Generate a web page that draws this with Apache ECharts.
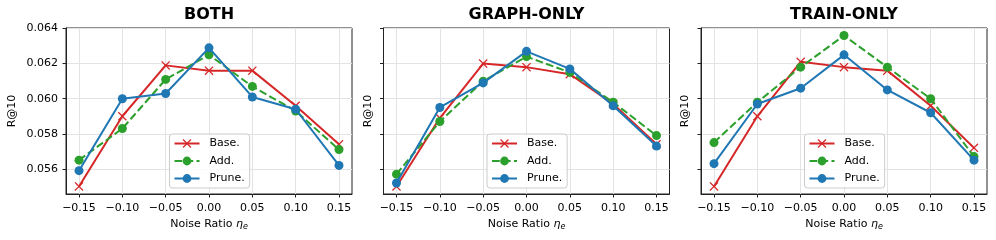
<!DOCTYPE html>
<html>
<head>
<meta charset="utf-8">
<script src="https://cdn.jsdelivr.net/npm/echarts@6/dist/echarts.min.js"></script>
<style>
html,body{margin:0;padding:0;background:#fff;}
#chart{width:996px;height:240px;}
</style>
</head>
<body>
<div id="chart"></div>
<script>
// ---- data ----
var xValues = [-0.15, -0.10, -0.05, 0.00, 0.05, 0.10, 0.15];
var xTicks = [-0.15, -0.10, -0.05, 0.00, 0.05, 0.10, 0.15];
var yTicks = [0.056, 0.058, 0.060, 0.062, 0.064];
var panelTitles = ['BOTH', 'GRAPH-ONLY', 'TRAIN-ONLY'];
var seriesNames = ['Base.', 'Add.', 'Prune.'];

var bothBase  = [0.0550, 0.0590, 0.0619, 0.0616, 0.0616, 0.0596, 0.0574];
var bothAdd   = [0.0565, 0.0583, 0.0611, 0.0625, 0.0607, 0.0593, 0.0571];
var bothPrune = [0.0559, 0.0600, 0.0603, 0.0629, 0.0601, 0.0594, 0.0562];

var graphBase  = [0.0550, 0.0589, 0.0620, 0.0618, 0.0614, 0.0597, 0.0574];
var graphAdd   = [0.0557, 0.0587, 0.0610, 0.0624, 0.0615, 0.0598, 0.0579];
var graphPrune = [0.0552, 0.0595, 0.0609, 0.0627, 0.0617, 0.0596, 0.0573];

var trainBase  = [0.0550, 0.0590, 0.0621, 0.0618, 0.0616, 0.0596, 0.0572];
var trainAdd   = [0.0575, 0.0598, 0.0618, 0.0636, 0.0618, 0.0600, 0.0567];
var trainPrune = [0.0563, 0.0597, 0.0606, 0.0625, 0.0605, 0.0592, 0.0565];

var panelData = [
  [bothBase, bothAdd, bothPrune],
  [graphBase, graphAdd, graphPrune],
  [trainBase, trainAdd, trainPrune]
];

// ---- layout / style ----
var FONT = 'DejaVu Sans';
var gridLefts = [66, 383.5, 701];
var gridWidth = 286;
var gridTop = 28;
var gridHeight = 166;
var colors = ['#d62728', '#2ca02c', '#1f77b4'];
var crossPath = 'path://M0,1L1,0L5,4L9,0L10,1L6,5L10,9L9,10L5,6L1,10L0,9L4,5Z';

function pairs(xs, ys) { return xs.map(function (x, i) { return [x, ys[i]]; }); }
function fmtX(v) { var s = Math.abs(v).toFixed(2); return (v < -1e-9 ? '\u2212' : '') + s; }

var grids = [], xAxes = [], yAxes = [], series = [], titles = [], legends = [];
for (var p = 0; p < 3; p++) {
  grids.push({
    left: gridLefts[p], top: gridTop, width: gridWidth, height: gridHeight,
    show: true, borderColor: '#222', borderWidth: 1, backgroundColor: 'transparent'
  });
  titles.push({
    text: panelTitles[p],
    left: gridLefts[p] + gridWidth / 2, top: 7, textAlign: 'center', padding: 0,
    textStyle: { fontFamily: FONT, fontWeight: 'bold', fontSize: 16, color: '#000' }
  });
  xAxes.push({
    type: 'value', gridIndex: p, min: -0.165, max: 0.165,
    name: 'Noise Ratio {i|\u03b7}{s|e}', nameLocation: 'middle', nameGap: 23,
    nameTextStyle: {
      fontFamily: FONT, fontSize: 11, color: '#000',
      rich: {
        i: { fontFamily: FONT, fontSize: 11, fontStyle: 'italic', color: '#000' },
        s: { fontFamily: FONT, fontSize: 8, fontStyle: 'italic', color: '#000', verticalAlign: 'bottom', padding: [5, 0, 0, 0] }
      }
    },
    axisLine: { show: true, onZero: false, lineStyle: { color: '#222', width: 1 } },
    axisTick: { show: true, length: 3.5, customValues: xTicks, lineStyle: { color: '#222', width: 1 } },
    axisLabel: { show: true, customValues: xTicks, margin: 9, formatter: fmtX, fontFamily: FONT, fontSize: 11, color: '#000' },
    splitLine: { show: true, lineStyle: { color: '#e3e3e3', width: 1 } }
  });
  yAxes.push({
    type: 'value', gridIndex: p, min: 0.05457, max: 0.06403,
    name: 'R@10', nameLocation: 'middle', nameRotate: 90, nameGap: p === 0 ? 48 : 10,
    nameTextStyle: { fontFamily: FONT, fontSize: 11, color: '#000' },
    axisLine: { show: true, onZero: false, lineStyle: { color: '#222', width: 1 } },
    axisTick: { show: true, length: 3.5, customValues: yTicks, lineStyle: { color: '#222', width: 1 } },
    axisLabel: { show: p === 0, customValues: yTicks, margin: 8, formatter: function (v) { return v.toFixed(3); }, fontFamily: FONT, fontSize: 11, color: '#000' },
    splitLine: { show: true, lineStyle: { color: '#e3e3e3', width: 1 } }
  });
  for (var s = 0; s < 3; s++) {
    var isBase = s === 0;
    series.push({
      type: 'line', name: seriesNames[s], xAxisIndex: p, yAxisIndex: p,
      data: pairs(xValues, panelData[p][s]),
      symbol: isBase ? crossPath : 'circle',
      symbolSize: 9,
      showSymbol: true, silent: true, animation: false, z: 2 + s,
      color: colors[s],
      lineStyle: { color: colors[s], width: 2, type: s === 1 ? [7.7, 3.3] : 'solid' },
      itemStyle: { color: colors[s] }
    });
  }
  var lgLeft = gridLefts[p] + gridWidth / 2 - 39.5;
  legends.push({
    data: seriesNames, orient: 'vertical', left: lgLeft, top: 134,
    itemWidth: 25, itemHeight: 11, itemGap: 6.5,
    padding: [4, 5, 4, 4],
    borderColor: '#cccccc', borderWidth: 1, borderRadius: 3,
    backgroundColor: 'rgba(255,255,255,0.8)',
    selectedMode: false,
    textStyle: { fontFamily: FONT, fontSize: 11, color: '#000', padding: [0, 0, 0, 5] }
  });
}

var chart = echarts.init(document.getElementById('chart'), null, { renderer: 'canvas' });
chart.setOption({
  animation: false,
  backgroundColor: '#fff',
  title: titles,
  legend: legends,
  grid: grids,
  xAxis: xAxes,
  yAxis: yAxes,
  series: series
});
</script>
</body>
</html>
